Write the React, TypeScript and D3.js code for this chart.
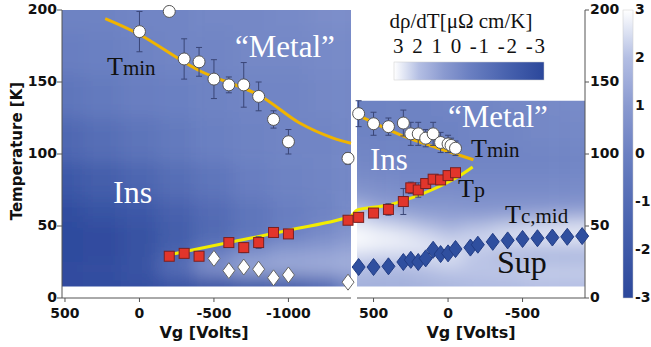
import React from 'react';
import * as d3 from 'd3';

const W = 651, H = 347;

// ---- data ----
// T_min (white circles), left sweep and right sweep
const tminLeftV = [0, -200, -300, -400, -500, -600, -700, -800, -900, -1000, -1400];
const tminLeftT = [185, 199, 166, 164, 152, 148, 148, 140, 124, 108.5, 97];
const tminLeftErr = [14, 0, 14, 10, 13.5, 5.5, 15.5, 10, 6, 8.5, 4];

const tminRightV = [600, 500, 400, 300, 250, 200, 150, 100, 50, 0, -20, -50];
const tminRightT = [128, 121, 119, 121.5, 114, 114, 111, 114, 108, 107, 106, 104];
const tminRightErr = [9, 8, 6, 9, 8, 8, 6, 8, 7, 6, 5, 5];

// T_p (red squares)
const tpLeftV = [-200, -300, -400, -600, -700, -800, -900, -1000, -1400];
const tpLeftT = [29, 31, 29, 38.5, 35, 38.5, 45.5, 44.5, 54];
const tpLeftErr = [0, 0, 0, 2, 3.5, 4, 0, 0, 0];

const tpRightV = [600, 500, 400, 300, 250, 200, 150, 100, 50, 0, -50];
const tpRightT = [56, 59, 61.5, 67, 76.5, 75, 79.5, 82.5, 82, 85, 87];
const tpRightErr = [3, 2, 4, 9, 4, 5, 3, 2, 2, 3, 0];

// Tc,mid (diamonds)
const tcLeftV = [-500, -600, -700, -800, -900, -1000, -1400];
const tcLeftT = [27.5, 19, 21.5, 20, 14, 16, 11];
const tcRightV = [600, 500, 400, 300, 250, 200, 150, 100, 50, 0, -50, -150, -200, -300, -400, -500, -600, -700, -800, -900];
const tcRightT = [21.5, 21.5, 22, 25, 26.5, 25, 27.5, 33.5, 30.5, 31, 34, 35, 37, 39, 40, 41, 41.5, 42, 42.5, 43];

// guide-to-the-eye curves
const tminFitLeftV = [230, 0, -400, -800, -1075, -1300, -1420];
const tminFitLeftT = [194, 183, 158, 141, 121.5, 111, 107.5];
const tminFitRightV = [605, 290, 65, -170];
const tminFitRightT = [127, 112, 104, 96];
const tpFitLeftV = [-200, -600, -1000, -1420];
const tpFitLeftT = [30, 38.5, 47, 57];
const tpFitRightV = [611, 400, 177, -47, -165];
const tpFitRightT = [61, 64.6, 72.2, 83, 91];

// dρ/dT map, coarse grid (rows = T, columns = Vg)
const heatLeftV = [520, 250, 0, -250, -500, -750, -1000, -1250, -1420];
const heatLeftT = [200, 170, 140, 110, 80, 60, 45, 30, 20, 12];
const heatLeftZ = [
  [0.1, 0.1, 0.2, 0.2, 0.3, 0.3, 0.4, 0.5, 0.5],
  [-0.1, 0.0, 0.1, 0.2, 0.2, 0.3, 0.3, 0.4, 0.4],
  [-0.5, -0.3, -0.1, 0.0, 0.1, 0.2, 0.2, 0.3, 0.3],
  [-1.2, -0.9, -0.6, -0.3, 0.0, 0.1, 0.2, 0.2, 0.3],
  [-2.0, -1.7, -1.3, -0.9, -0.5, -0.1, 0.1, 0.2, 0.3],
  [-2.6, -2.3, -2.0, -1.5, -1.0, -0.5, -0.1, 0.1, 0.4],
  [-2.8, -2.7, -2.4, -1.8, -1.1, -0.5, 0.0, 0.4, 0.8],
  [-2.8, -2.7, -2.4, -1.4, -0.2, 0.6, 1.1, 1.2, 1.4],
  [-2.7, -2.5, -2.2, -0.7, 1.0, 1.6, 1.6, 1.7, 1.7],
  [-2.7, -2.6, -2.5, -2.2, -2.1, -1.9, -1.7, -1.2, 0.3],
];
const heatRightV = [611, 450, 300, 150, 0, -200, -400, -600, -800, -919];
const heatRightT = [137, 115, 95, 78, 65, 55, 47, 40, 33, 26, 19, 12];
const heatRightZ = [
  [0.1, 0.1, 0.1, 0.1, 0.2, 0.2, 0.3, 0.3, 0.4, 0.4],
  [0.1, 0.1, 0.1, 0.1, 0.1, 0.2, 0.2, 0.3, 0.3, 0.3],
  [0.3, 0.2, 0.2, 0.2, 0.2, 0.2, 0.2, 0.2, 0.2, 0.2],
  [0.6, 0.5, 0.4, 0.4, 0.4, 0.4, 0.4, 0.4, 0.4, 0.4],
  [1.3, 1.0, 0.8, 0.8, 0.8, 0.7, 0.7, 0.7, 0.7, 0.7],
  [2.4, 2.0, 1.6, 1.3, 1.2, 1.2, 1.3, 1.5, 1.7, 1.8],
  [2.9, 2.7, 2.5, 2.2, 1.9, 2.2, 2.5, 2.7, 2.8, 2.8],
  [3.0, 2.9, 2.8, 2.6, 2.3, 2.4, 2.5, 2.5, 2.5, 2.5],
  [2.7, 2.6, 2.6, 2.6, 2.5, 2.2, 2.0, 1.9, 1.9, 1.9],
  [2.2, 2.1, 2.1, 2.3, 2.5, 2.0, 1.7, 1.6, 1.6, 1.6],
  [2.0, 1.9, 1.9, 2.0, 2.1, 2.2, 2.3, 2.4, 2.4, 2.4],
  [1.6, 1.6, 1.6, 1.7, 1.8, 1.9, 1.9, 2.0, 2.0, 2.0],
];

const tempTicks = [0, 50, 100, 150, 200];
const vgLeftTicks = [500, 0, -500, -1000];
const vgRightTicks = [500, 0, -500];
const cbTicks = [3, 2, 1, 0, -1, -2, -3];

// ---- scales ----
const y = d3.scaleLinear().domain([0, 200]).range([298, 10]);
const xL = d3.scaleLinear().domain([520, -1420]).range([62, 351]);
const xR = d3.scaleLinear().domain([611, -919]).range([357, 585]);
const cbY = d3.scaleLinear().domain([3, -3]).range([10, 298]);
const color = d3.scaleLinear<string>()
  .domain([-3, -1.5, 0, 1, 2, 3])
  .range(['#2b479b', '#4862ae', '#6b80c2', '#8a9ad0', '#b3bee3', '#ffffff']);

const axisFont = "'DejaVu Sans', Verdana, sans-serif";
const serif = "'Liberation Serif', 'Times New Roman', serif";

function bounds(c: number[], pad: number) {
  const b = [c[0] - (c[1] - c[0]) / 2 - pad];
  for (let i = 1; i < c.length; i++) b.push((c[i - 1] + c[i]) / 2);
  b.push(c[c.length - 1] + (c[c.length - 1] - c[c.length - 2]) / 2 + pad);
  return b;
}

function Heat({ vs, ts, zs, x }: { vs: number[]; ts: number[]; zs: number[][]; x: d3.ScaleLinear<number, number> }) {
  const bx = bounds(vs.map(v => x(v)), 30);
  const by = bounds(ts.map(t => y(t)), 30);
  const cells: JSX.Element[] = [];
  zs.forEach((row, i) => row.forEach((z, j) => {
    const x0 = Math.min(bx[j], bx[j + 1]), x1 = Math.max(bx[j], bx[j + 1]);
    const y0 = Math.min(by[i], by[i + 1]), y1 = Math.max(by[i], by[i + 1]);
    cells.push(<rect key={i + '-' + j} x={x0} y={y0} width={x1 - x0 + 0.5} height={y1 - y0 + 0.5} fill={color(z)} />);
  }));
  return <g filter="url(#blur)">{cells}</g>;
}

function ErrBars({ vs, ts, es, x }: { vs: number[]; ts: number[]; es: number[]; x: d3.ScaleLinear<number, number> }) {
  return (
    <g stroke="#3a4677" strokeWidth={1}>
      {vs.map((v, i) => es[i] > 0 ? (
        <g key={i}>
          <line x1={x(v)} x2={x(v)} y1={y(ts[i] + es[i])} y2={y(ts[i] - es[i])} />
          <line x1={x(v) - 3} x2={x(v) + 3} y1={y(ts[i] + es[i])} y2={y(ts[i] + es[i])} />
          <line x1={x(v) - 3} x2={x(v) + 3} y1={y(ts[i] - es[i])} y2={y(ts[i] - es[i])} />
        </g>
      ) : null)}
    </g>
  );
}

function Circles({ vs, ts, x }: any) {
  return <g>{vs.map((v: number, i: number) => <circle key={i} cx={x(v)} cy={y(ts[i])} r={6} fill="#fff" stroke="#555" strokeWidth={1} />)}</g>;
}
function Squares({ vs, ts, x }: any) {
  return <g>{vs.map((v: number, i: number) => <rect key={i} x={x(v) - 5} y={y(ts[i]) - 5} width={10} height={10} fill="#e2352b" stroke="#7a2020" strokeWidth={1} />)}</g>;
}
function Diamonds({ vs, ts, x, fill, stroke, w, h }: any) {
  return <g>{vs.map((v: number, i: number) => {
    const cx = x(v), cy = y(ts[i]);
    return <path key={i} d={`M${cx},${cy - h}L${cx + w},${cy}L${cx},${cy + h}L${cx - w},${cy}Z`} fill={fill} stroke={stroke} strokeWidth={1} />;
  })}</g>;
}

const curve = d3.line<[number, number]>().curve(d3.curveCatmullRom);

export default function App() {
  const tminL = curve(tminFitLeftV.map((v, i) => [xL(v), y(tminFitLeftT[i])]))!;
  const tminR = curve(tminFitRightV.map((v, i) => [xR(v), y(tminFitRightT[i])]))!;
  const tpPts: [number, number][] = [
    ...tpFitLeftV.map((v, i) => [xL(v), y(tpFitLeftT[i])] as [number, number]),
    ...tpFitRightV.map((v, i) => [xR(v), y(tpFitRightT[i])] as [number, number]),
  ];
  const tp = curve(tpPts)!;
  const stops = d3.range(0, 13).map(k => 3 - k * 0.5);

  return (
    <svg width={W} height={H} style={{ position: 'absolute', left: 0, top: 0, background: '#fff' }}>
      <defs>
        <filter id="blur" x="-20%" y="-20%" width="140%" height="140%">
          <feGaussianBlur stdDeviation={9} />
        </filter>
        <clipPath id="clipL"><rect x={62} y={y(200)} width={351 - 62} height={y(8) - y(200)} /></clipPath>
        <clipPath id="clipR"><rect x={357} y={y(137)} width={585 - 357} height={y(8) - y(137)} /></clipPath>
        <linearGradient id="cbV" x1="0" y1="0" x2="0" y2="1">
          {stops.map((s, i) => <stop key={i} offset={(i / 12) * 100 + '%'} stopColor={color(s)} />)}
        </linearGradient>
        <linearGradient id="cbH" x1="0" y1="0" x2="1" y2="0">
          {stops.map((s, i) => <stop key={i} offset={(i / 12) * 100 + '%'} stopColor={color(s)} />)}
        </linearGradient>
      </defs>

      {/* maps */}
      <g clipPath="url(#clipL)"><Heat vs={heatLeftV} ts={heatLeftT} zs={heatLeftZ} x={xL} /></g>
      <g clipPath="url(#clipR)"><Heat vs={heatRightV} ts={heatRightT} zs={heatRightZ} x={xR} /></g>

      {/* axes */}
      <g fontFamily={axisFont} fontWeight="bold" fontSize={14} fill="#111">
        <line x1={62} x2={62} y1={y(200)} y2={y(0)} stroke="#555" />
        {tempTicks.map(t => (
          <g key={t}>
            <line x1={57} x2={62} y1={y(t)} y2={y(t)} stroke="#555" />
            <text x={57} y={y(t)} dy="0.3em" textAnchor="end">{t}</text>
          </g>
        ))}
        <line x1={62} x2={351} y1={y(0)} y2={y(0)} stroke="#555" />
        {vgLeftTicks.map(v => (
          <g key={v}>
            <line x1={xL(v)} x2={xL(v)} y1={y(0)} y2={y(0) + 4} stroke="#555" />
            <text x={xL(v)} y={318} textAnchor="middle">{v}</text>
          </g>
        ))}
        <line x1={357} x2={585} y1={y(0)} y2={y(0)} stroke="#555" />
        {vgRightTicks.map(v => (
          <g key={v}>
            <line x1={xR(v)} x2={xR(v)} y1={y(0)} y2={y(0) + 4} stroke="#555" />
            <text x={xR(v)} y={318} textAnchor="middle">{v}</text>
          </g>
        ))}
        <line x1={585} x2={585} y1={y(200)} y2={y(0)} stroke="#555" />
        {tempTicks.map(t => (
          <g key={'r' + t}>
            <line x1={585} x2={589} y1={y(t)} y2={y(t)} stroke="#555" />
            <text x={590} y={y(t)} dy="0.3em">{t}</text>
          </g>
        ))}
        <rect x={623} y={cbY(3)} width={10} height={cbY(-3) - cbY(3)} fill="url(#cbV)" stroke="#ccc" strokeWidth={0.5} />
        {cbTicks.map(c => (
          <text key={c} x={635} y={cbY(c)} dy="0.3em">{c}</text>
        ))}
        <text transform={`translate(22,${y(102)}) rotate(-90)`} textAnchor="middle" fontSize={15}>Temperature [K]</text>
        <text x={204} y={338} textAnchor="middle" fontSize={16}>Vg [Volts]</text>
        <text x={471} y={338} textAnchor="middle" fontSize={16}>Vg [Volts]</text>
      </g>

      {/* fits */}
      <path d={tminL} fill="none" stroke="#f0b400" strokeWidth={3} />
      <path d={tminR} fill="none" stroke="#f0b400" strokeWidth={3} />
      <path d={tp} fill="none" stroke="#f2ec00" strokeWidth={3} />

      {/* points */}
      <ErrBars vs={tminLeftV} ts={tminLeftT} es={tminLeftErr} x={xL} />
      <ErrBars vs={tminRightV} ts={tminRightT} es={tminRightErr} x={xR} />
      <ErrBars vs={tpLeftV} ts={tpLeftT} es={tpLeftErr} x={xL} />
      <ErrBars vs={tpRightV} ts={tpRightT} es={tpRightErr} x={xR} />
      <Circles vs={tminLeftV} ts={tminLeftT} x={xL} />
      <Circles vs={tminRightV} ts={tminRightT} x={xR} />
      <Squares vs={tpLeftV} ts={tpLeftT} x={xL} />
      <Squares vs={tpRightV} ts={tpRightT} x={xR} />
      <Diamonds vs={tcLeftV} ts={tcLeftT} x={xL} fill="#fff" stroke="#666" w={6} h={8} />
      <Diamonds vs={tcRightV} ts={tcRightT} x={xR} fill="#2f4f9f" stroke="#223d85" w={6.5} h={8.5} />

      {/* labels */}
      <g fontFamily={serif}>
        <text x={107} y={75} fill="#111" fontSize={26}>T<tspan fontSize={21}>min</tspan></text>
        <text x={235} y={57} fill="#fff" fontSize={31}>“Metal”</text>
        <text x={113} y={203} fill="#fff" fontSize={32}>Ins</text>
        <text x={448} y={127} fill="#fff" fontSize={31}>“Metal”</text>
        <text x={370} y={170} fill="#fff" fontSize={31}>Ins</text>
        <text x={471} y={157} fill="#111" fontSize={26}>T<tspan fontSize={21}>min</tspan></text>
        <text x={458} y={197} fill="#111" fontSize={26}>T<tspan fontSize={22}>p</tspan></text>
        <text x={505} y={223} fill="#111" fontSize={26}>T<tspan fontSize={21}>c,mid</tspan></text>
        <text x={497} y={273} fill="#111" fontSize={32}>Sup</text>
        <text x={461} y={28} textAnchor="middle" fill="#111" fontSize={21}>dρ/dT[μΩ cm/K]</text>
        <text x={393} y={53} fill="#111" fontSize={21} textLength={152} lengthAdjust="spacing">3 2 1 0 -1 -2 -3</text>
      </g>
      <rect x={394} y={62} width={150} height={18} fill="url(#cbH)" stroke="#ccc" strokeWidth={0.5} />
    </svg>
  );
}
